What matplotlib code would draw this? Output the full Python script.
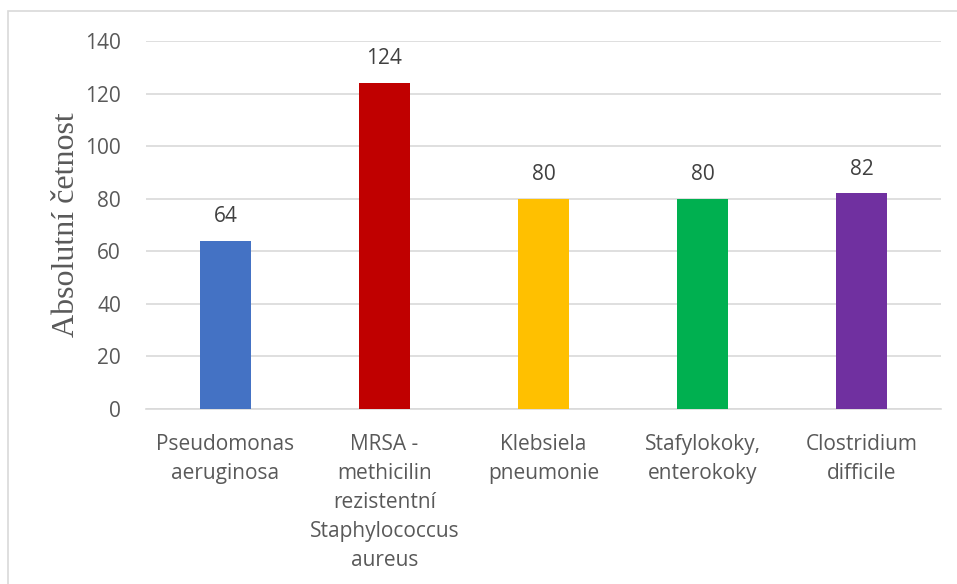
import matplotlib
matplotlib.use("Agg")
import matplotlib.pyplot as plt
from matplotlib.patches import Rectangle

categories = [
    "Pseudomonas\naeruginosa",
    "MRSA -\nmethicilin\nrezistentní\nStaphylococcus\naureus",
    "Klebsiela\npneumonie",
    "Stafylokoky,\nenterokoky",
    "Clostridium\ndifficile",
]
values = [64, 124, 80, 80, 82]
colors = ["#4472C4", "#C00000", "#FFC000", "#00B050", "#7030A0"]
y_ticks = [0, 20, 40, 60, 80, 100, 120, 140]
y_label = "Absolutní četnost"

W, H = 957, 584
fig = plt.figure(figsize=(W / 100, H / 100), dpi=100)
fig.patch.set_facecolor("white")

# chart frame (runs off the right and bottom edges)
fig.add_artist(Rectangle((8 / W, -0.05), 1.0, 1 - 11 / H + 0.05,
                         transform=fig.transFigure, fill=False,
                         edgecolor="#D9D9D9", linewidth=1.2))

ax = fig.add_axes([146 / W, 1 - 409 / H, (941 - 146) / W, (409 - 41) / H])
sans = ["Open Sans", "DejaVu Sans"]

x = list(range(len(categories)))
ax.bar(x, values, width=0.32, color=colors, zorder=3)
ax.set_xlim(-0.5, len(categories) - 0.5)
ax.set_ylim(0, 140)
ax.set_yticks(y_ticks)
ax.set_yticklabels([str(t) for t in y_ticks], fontsize=15, color="#595959", family=sans)
ax.set_xticks(x)
ax.set_xticklabels(categories, fontsize=15, color="#595959", family=sans, linespacing=1.5)
ax.tick_params(axis="both", length=0)
ax.tick_params(axis="x", pad=18)
ax.tick_params(axis="y", pad=18)

ax.grid(axis="y", color="#D9D9D9", linewidth=1.2, zorder=0)
for s in ["top", "right", "left"]:
    ax.spines[s].set_visible(False)
ax.spines["bottom"].set_color("#D9D9D9")
ax.spines["bottom"].set_linewidth(1.2)

for xi, v in zip(x, values):
    ax.annotate(str(v), (xi, v), xytext=(0, 10), textcoords="offset points",
                ha="center", va="bottom", fontsize=15, color="#404040", family=sans)

ax.set_ylabel(y_label, family="Liberation Serif", fontsize=23, color="#595959", labelpad=3)

fig.savefig("out.png", dpi=100, facecolor="white")
